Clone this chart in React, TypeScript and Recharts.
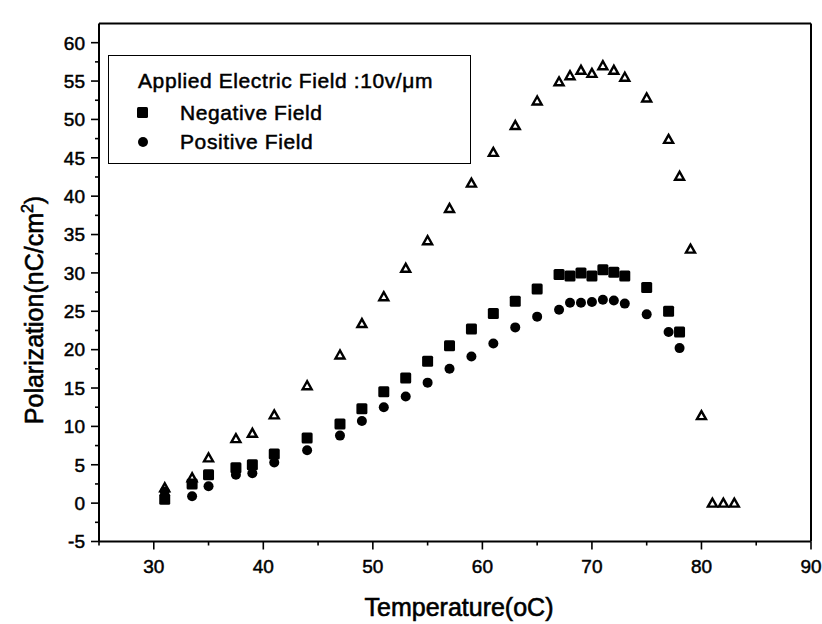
import React from "react";
import { ScatterChart, Scatter, XAxis, YAxis, ReferenceLine, Label } from "recharts";

// temperature (oC) and polarization (nC/cm2)
const triTemp = [31, 33.5, 35, 37.5, 39, 41, 44, 47, 49, 51, 53, 55, 57, 59, 61, 63, 65, 67, 68, 69, 70, 71, 72, 73, 75, 77, 78, 79, 80, 81, 82, 83];
const triPol = [2.0, 3.3, 5.9, 8.4, 9.1, 11.5, 15.3, 19.3, 23.4, 26.9, 30.6, 34.2, 38.4, 41.7, 45.7, 49.2, 52.4, 54.9, 55.7, 56.4, 56.0, 57.0, 56.4, 55.5, 52.8, 47.4, 42.6, 33.1, 11.4, 0, 0, 0];

const negTemp = [31, 33.5, 35, 37.5, 39, 41, 44, 47, 49, 51, 53, 55, 57, 59, 61, 63, 65, 67, 68, 69, 70, 71, 72, 73, 75, 77, 78];
const negPol = [0.5, 2.5, 3.7, 4.6, 5.0, 6.4, 8.5, 10.3, 12.3, 14.5, 16.3, 18.5, 20.5, 22.7, 24.7, 26.3, 27.9, 29.8, 29.6, 30.0, 29.6, 30.4, 30.1, 29.6, 28.1, 25.0, 22.3];

const posTemp = [31, 33.5, 35, 37.5, 39, 41, 44, 47, 49, 51, 53, 55, 57, 59, 61, 63, 65, 67, 68, 69, 70, 71, 72, 73, 75, 77, 78];
const posPol = [1.5, 0.9, 2.2, 3.7, 3.9, 5.3, 6.9, 8.8, 10.7, 12.5, 13.9, 15.7, 17.5, 19.1, 20.8, 22.9, 24.3, 25.2, 26.1, 26.1, 26.2, 26.5, 26.4, 26.0, 24.6, 22.3, 20.2];

const xTicks = [25, 30, 35, 40, 45, 50, 55, 60, 65, 70, 75, 80, 85, 90];
const yTicks = [-5, -2.5, 0, 2.5, 5, 7.5, 10, 12.5, 15, 17.5, 20, 22.5, 25, 27.5, 30, 32.5, 35, 37.5, 40, 42.5, 45, 47.5, 50, 52.5, 55, 57.5, 60];

const legendTitle = "Applied Electric Field :10v/\u03bcm";
const negName = "Negative Field";
const posName = "Positive Field";

const zip = (xs: number[], ys: number[]) => xs.map((x, i) => ({ x, y: ys[i] }));
const triData = zip(triTemp, triPol);
const negData = zip(negTemp, negPol);
const posData = zip(posTemp, posPol);

const FONT = "'Liberation Sans', Arial, Helvetica, sans-serif";

const XTick = (props: any) => {
  const { x, y, payload } = props;
  const v = payload.value;
  const major = v % 10 === 0;
  const ay = y - 12;
  return (
    <g>
      <line x1={x} x2={x} y1={ay} y2={ay + (major ? 8 : 4)} stroke="#000" strokeWidth={1.6} />
      {major && (
        <text x={x} y={ay + 31} textAnchor="middle" fontSize={19} fontFamily={FONT} fill="#000" stroke="#000" strokeWidth={0.5}>
          {v}
        </text>
      )}
    </g>
  );
};

const YTick = (props: any) => {
  const { x, y, payload } = props;
  const v = payload.value;
  const major = v % 5 === 0;
  const ax = x + 12;
  return (
    <g>
      <line x1={ax} x2={ax - (major ? 8 : 4)} y1={y} y2={y} stroke="#000" strokeWidth={1.6} />
      {major && (
        <text x={ax - 14} y={y} dy="0.36em" textAnchor="end" fontSize={19} fontFamily={FONT} fill="#000" stroke="#000" strokeWidth={0.5}>
          {v}
        </text>
      )}
    </g>
  );
};

const Square = (p: any) => <rect x={p.cx - 5.5} y={p.cy - 5.5} width={11} height={11} rx={1.5} fill="#000" />;
const Dot = (p: any) => <circle cx={p.cx} cy={p.cy} r={5} fill="#000" />;
const Tri = (p: any) => (
  <polygon
    points={`${p.cx},${p.cy - 4.5} ${p.cx - 4.5},${p.cy + 3.5} ${p.cx + 4.5},${p.cy + 3.5}`}
    fill="none"
    stroke="#000"
    strokeWidth={2.4}
  />
);

export default function App() {
  return (
    <div style={{ position: "absolute", left: 0, top: 0, width: 822, height: 624, background: "#fff", fontFamily: FONT }}>
      <ScatterChart width={822} height={624} margin={{ top: 23.5, right: 11, bottom: 42.5, left: 39 }}>
        <XAxis
          type="number"
          dataKey="x"
          domain={[25, 90]}
          ticks={xTicks}
          interval={0}
          tickSize={8}
          tickMargin={4}
          tickLine={false}
          tick={<XTick />}
          height={40}
          axisLine={{ stroke: "#000", strokeWidth: 2 }}
        >
          <Label
            content={() => (
              <text x={459} y={616} textAnchor="middle" fontSize={25} fontFamily={FONT} fill="#000" stroke="#000" strokeWidth={0.6}>
                Temperature(oC)
              </text>
            )}
          />
        </XAxis>
        <YAxis
          type="number"
          dataKey="y"
          domain={[-5, 62.5]}
          ticks={yTicks}
          interval={0}
          tickSize={8}
          tickMargin={4}
          tickLine={false}
          tick={<YTick />}
          width={60}
          axisLine={{ stroke: "#000", strokeWidth: 2 }}
        >
          <Label
            content={() => (
              <text x={43} y={310} transform="rotate(-90 43 310)" textAnchor="middle" fontSize={25} fontFamily={FONT} fill="#000" stroke="#000" strokeWidth={0.6}>
                <tspan>Polarization(nC/cm</tspan>
                <tspan dy={-10} fontSize={16}>2</tspan>
                <tspan dy={10}>)</tspan>
              </text>
            )}
          />
        </YAxis>
        <ReferenceLine y={62.5} stroke="#000" strokeWidth={2} />
        <ReferenceLine x={90} stroke="#000" strokeWidth={2} />
        <Scatter name="Applied" data={triData} shape={Tri} isAnimationActive={false} />
        <Scatter name={negName} data={negData} shape={Square} isAnimationActive={false} />
        <Scatter name={posName} data={posData} shape={Dot} isAnimationActive={false} />
      </ScatterChart>
      <div
        style={{
          position: "absolute",
          left: 108,
          top: 55,
          width: 361,
          height: 107,
          border: "1.5px solid #000",
          fontSize: 21,
          letterSpacing: 0.6,
          color: "#000",
          WebkitTextStroke: "0.5px #000",
          boxSizing: "content-box",
        }}
      >
        <div style={{ position: "absolute", left: 29, top: 13, whiteSpace: "nowrap", lineHeight: "24px" }}>{legendTitle}</div>
        <div style={{ position: "absolute", left: 28, top: 51, width: 11, height: 11, background: "#000", borderRadius: 1.5 }} />
        <div style={{ position: "absolute", left: 71, top: 45, whiteSpace: "nowrap", lineHeight: "24px" }}>{negName}</div>
        <div style={{ position: "absolute", left: 29, top: 81, width: 10, height: 10, background: "#000", borderRadius: 5 }} />
        <div style={{ position: "absolute", left: 71, top: 74, whiteSpace: "nowrap", lineHeight: "24px" }}>{posName}</div>
      </div>
    </div>
  );
}
